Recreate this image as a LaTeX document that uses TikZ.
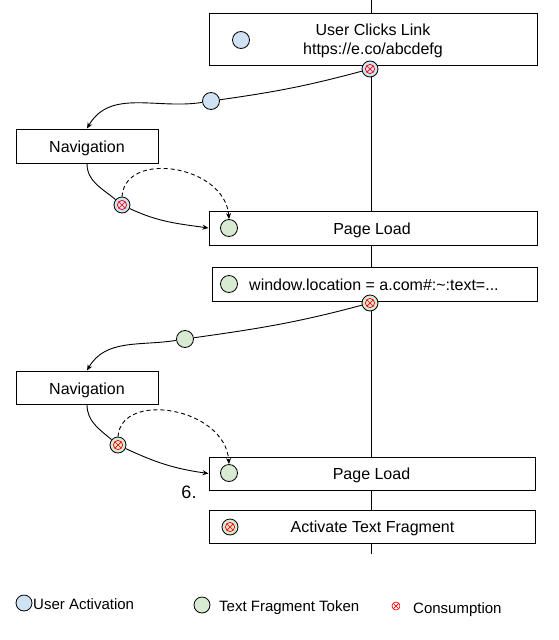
\documentclass[tikz,border=0pt]{standalone}
\usepackage{fontspec}
\setmainfont{Liberation Sans}
\usetikzlibrary{arrows.meta}
\definecolor{uablue}{HTML}{CFE2F3}
\definecolor{tfgreen}{HTML}{D9EAD3}
\tikzset{
  box/.style={draw, fill=white, line width=1pt, rectangle, inner sep=0pt},
  txt/.style={inner sep=0pt, anchor=base, font=\fontsize{16}{19}\selectfont},
  legtxt/.style={inner sep=0pt, anchor=base west, font=\fontsize{15}{18}\selectfont},
  token/.style={circle, draw, fill=#1, minimum size=17pt, inner sep=0pt, line width=0.8pt},
  consume/.style={circle, draw, fill=#1, minimum size=16pt, inner sep=0pt, line width=0.8pt,
    path picture={
      \draw[red, line width=0.7pt] (path picture bounding box.center) circle (4.6pt);
      \draw[red, line width=0.7pt] ([shift={(-3.2pt,-3.2pt)}]path picture bounding box.center) -- ([shift={(3.2pt,3.2pt)}]path picture bounding box.center);
      \draw[red, line width=0.7pt] ([shift={(-3.2pt,3.2pt)}]path picture bounding box.center) -- ([shift={(3.2pt,-3.2pt)}]path picture bounding box.center);
    }},
  conn/.style={line width=0.9pt},
  arr/.style={line width=0.9pt, -{Stealth[length=6pt,width=5pt]}},
  darr/.style={line width=0.9pt, dashed, dash pattern=on 4pt off 3pt, -{Stealth[length=6pt,width=5pt]}}
}
\begin{document}
\begin{tikzpicture}[x=1pt,y=1pt]
\useasboundingbox (0,0) rectangle (558,-640);
% timeline
\coordinate (ltop) at (371,0);
\coordinate (lbot) at (371,-554);
\draw[line width=0.9pt] (ltop) -- (lbot);

% boxes
\node[box, minimum width=328pt, minimum height=52pt] (click) at (373,-39) {};
\node[txt] (clicktxt1) at (373,-35) {User Clicks Link};
\node[txt] (clicktxt2) at (373,-54) {https://e.co/abcdefg};
\node[box, minimum width=142pt, minimum height=34pt] (nav1) at (87,-146) {};
\node[txt] (nav1txt) at (87,-152.5) {Navigation};
\node[box, minimum width=328pt, minimum height=34pt] (pl1) at (373,-228) {};
\node[txt] (pl1txt) at (372,-234) {Page Load};
\node[box, minimum width=325pt, minimum height=34pt] (win) at (374.5,-284) {};
\node[txt, anchor=base west] (wintxt) at (249,-290) {window.location = a.com\#:\textasciitilde:text=...};
\node[box, minimum width=142pt, minimum height=33pt] (nav2) at (87,-387.5) {};
\node[txt] (nav2txt) at (87,-394) {Navigation};
\node[box, minimum width=326pt, minimum height=33pt] (pl2) at (372,-473.5) {};
\node[txt] (pl2txt) at (371.5,-479.5) {Page Load};
\node[box, minimum width=326pt, minimum height=33pt] (act) at (372,-526.5) {};
\node[txt] (acttxt) at (372.5,-532.5) {Activate Text Fragment};

% tokens
\node[token=uablue] (uaIn) at (241,-40) {};
\node[consume=uablue] (c1) at (370,-69) {};
\node[token=uablue] (ua1) at (211,-101) {};
\node[consume=uablue] (c2) at (122,-205) {};
\node[token=tfgreen] (g1) at (229,-228) {};
\node[token=tfgreen] (g2) at (229,-284) {};
\node[consume=tfgreen] (c3) at (370,-303) {};
\node[token=tfgreen] (tf1) at (185,-339) {};
\node[consume=tfgreen] (c4) at (118,-445) {};
\node[token=tfgreen] (g3) at (229,-473) {};
\node[consume=tfgreen] (c5) at (230,-527) {};
\node[inner sep=0pt, anchor=base, font=\fontsize{18}{20}\selectfont] (six) at (189,-498) {6.};

% connectors, first navigation
\draw[conn] (c1) to[out=195,in=8] (ua1);
\draw[arr] (ua1) to[out=189,in=60] (nav1.north);
\draw[conn] (nav1.south) to[out=-90,in=140] (c2);
\draw[arr] (c2) to[out=-25,in=172] (pl1.west);
\draw[darr] (c2.north) .. controls +(3,47) and +(-4,54) .. (g1.north);

% second navigation
\draw[conn] (c3) to[out=195,in=8] (tf1);
\draw[arr] (tf1) to[out=189,in=60] (nav2.north);
\draw[conn] (nav2.south) to[out=-90,in=140] (c4);
\draw[arr] (c4) to[out=-25,in=172] (pl2.west);
\draw[darr] (c4.north) .. controls +(3,46) and +(-4,57) .. (g3.north);

% legend
\node[token=uablue, minimum size=16pt] (lua) at (24,-603) {};
\node[legtxt] (luat) at (33,-609.5) {User Activation};
\node[token=tfgreen, minimum size=16pt] (ltf) at (202,-605) {};
\node[legtxt] (ltft) at (219,-611) {Text Fragment Token};
\node[circle, inner sep=0pt, minimum size=9pt, path picture={
      \draw[red, line width=0.7pt] (path picture bounding box.center) circle (4pt);
      \draw[red, line width=0.7pt] ([shift={(-2.8pt,-2.8pt)}]path picture bounding box.center) -- ([shift={(2.8pt,2.8pt)}]path picture bounding box.center);
      \draw[red, line width=0.7pt] ([shift={(-2.8pt,2.8pt)}]path picture bounding box.center) -- ([shift={(2.8pt,-2.8pt)}]path picture bounding box.center);
    }] (lcons) at (396,-606) {};
\node[legtxt] (lconst) at (413,-613) {Consumption};
\end{tikzpicture}
\end{document}
